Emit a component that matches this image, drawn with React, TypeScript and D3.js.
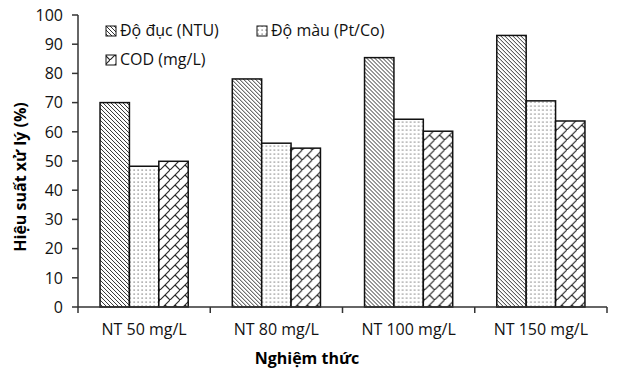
import React from "react";
import * as d3 from "d3";

const categories = ["NT 50 mg/L", "NT 80 mg/L", "NT 100 mg/L", "NT 150 mg/L"];
const seriesNames = ["Độ đục (NTU)", "Độ màu (Pt/Co)", "COD (mg/L)"];
const turbidity = [70, 78.1, 85.4, 93.0];
const color = [48.2, 56.1, 64.3, 70.6];
const cod = [49.9, 54.4, 60.2, 63.7];
const yTicks = [0, 10, 20, 30, 40, 50, 60, 70, 80, 90, 100];

const W = 618, H = 375;
const left = 78, right = 607, top = 15, bottom = 307;
const FONT = "'Open Sans', sans-serif";
const patterns = ["pDiag", "pDots", "pBrick"];

export default function App() {
  const series = [turbidity, color, cod];
  const x = d3.scaleBand<string>().domain(categories).range([left, right]).paddingInner(1 / 3).paddingOuter(1 / 6);
  const xi = d3.scaleBand<number>().domain([0, 1, 2]).range([0, x.bandwidth()]);
  const y = d3.scaleLinear().domain([0, 100]).range([bottom, top]);
  const step = x.step();
  const boundaries = d3.range(categories.length + 1).map((i) => left + i * step);

  const legend = [
    { name: seriesNames[0], x: 106, y: 26 },
    { name: seriesNames[1], x: 257, y: 26 },
    { name: seriesNames[2], x: 106, y: 55 },
  ];

  return (
    <svg width={W} height={H} style={{ position: "absolute", left: 0, top: 0, background: "#fff" }}>
      <defs>
        <pattern id="pDiag" patternUnits="userSpaceOnUse" width={4} height={4}>
          <rect width={4} height={4} fill="#fff" />
          <path d="M-1,-1 L5,5 M-1,3 L1,5 M3,-1 L5,1" stroke="#333" strokeWidth={1} />
        </pattern>
        <pattern id="pDots" patternUnits="userSpaceOnUse" width={4} height={4}>
          <rect width={4} height={4} fill="#fff" />
          <rect x={1.5} y={1.5} width={1.2} height={1.2} fill="#666" />
        </pattern>
        <pattern id="pBrick" patternUnits="userSpaceOnUse" width={10} height={10}>
          <rect width={10} height={10} fill="#fff" />
          <path d="M-1,11 L11,-1 M5,5 L10.5,10.5 M-1,9 L1,11 M9,-1 L11,1" stroke="#222" strokeWidth={1.1} fill="none" />
        </pattern>
      </defs>

      {/* bars */}
      {categories.map((c, ci) => (
        <g key={c} transform={`translate(${x(c)},0)`}>
          {series.map((s, si) => (
            <rect
              key={si}
              x={xi(si)}
              y={y(s[ci])}
              width={xi.bandwidth()}
              height={bottom - y(s[ci])}
              fill={`url(#${patterns[si]})`}
              stroke="#111"
              strokeWidth={1.5}
            />
          ))}
        </g>
      ))}

      {/* y axis */}
      <line x1={left} x2={left} y1={top} y2={bottom} stroke="#333" strokeWidth={1.5} />
      {yTicks.map((t) => (
        <g key={t}>
          <line x1={left - 6} x2={left} y1={y(t)} y2={y(t)} stroke="#333" strokeWidth={1.5} />
          <text x={63} y={y(t)} dy="0.36em" textAnchor="end" fontFamily={FONT} fontSize={16} fill="#111">
            {t}
          </text>
        </g>
      ))}

      {/* x axis */}
      <line x1={left} x2={right} y1={bottom} y2={bottom} stroke="#333" strokeWidth={1.5} />
      {boundaries.map((b, i) => (
        <line key={i} x1={b} x2={b} y1={bottom} y2={bottom + 6} stroke="#333" strokeWidth={1.5} />
      ))}
      {categories.map((c) => (
        <text key={c} x={(x(c) as number) + x.bandwidth() / 2} y={335} textAnchor="middle" fontFamily={FONT} fontSize={16} fill="#111">
          {c}
        </text>
      ))}

      {/* titles */}
      <text x={307} y={364} textAnchor="middle" fontFamily={FONT} fontSize={16} fontWeight="bold" fill="#000">
        Nghiệm thức
      </text>
      <text
        transform={`translate(26,177) rotate(-90)`}
        textAnchor="middle"
        fontFamily={FONT}
        fontSize={16}
        fontWeight="bold"
        fill="#000"
      >
        Hiệu suất xử lý (%)
      </text>

      {/* legend */}
      {legend.map((l, i) => (
        <g key={l.name}>
          <rect x={l.x} y={l.y} width={10} height={10} fill={`url(#${patterns[i]})`} stroke="#111" strokeWidth={1} />
          <text x={l.x + 14} y={l.y + 10} fontFamily={FONT} fontSize={16} fill="#111">
            {l.name}
          </text>
        </g>
      ))}
    </svg>
  );
}
